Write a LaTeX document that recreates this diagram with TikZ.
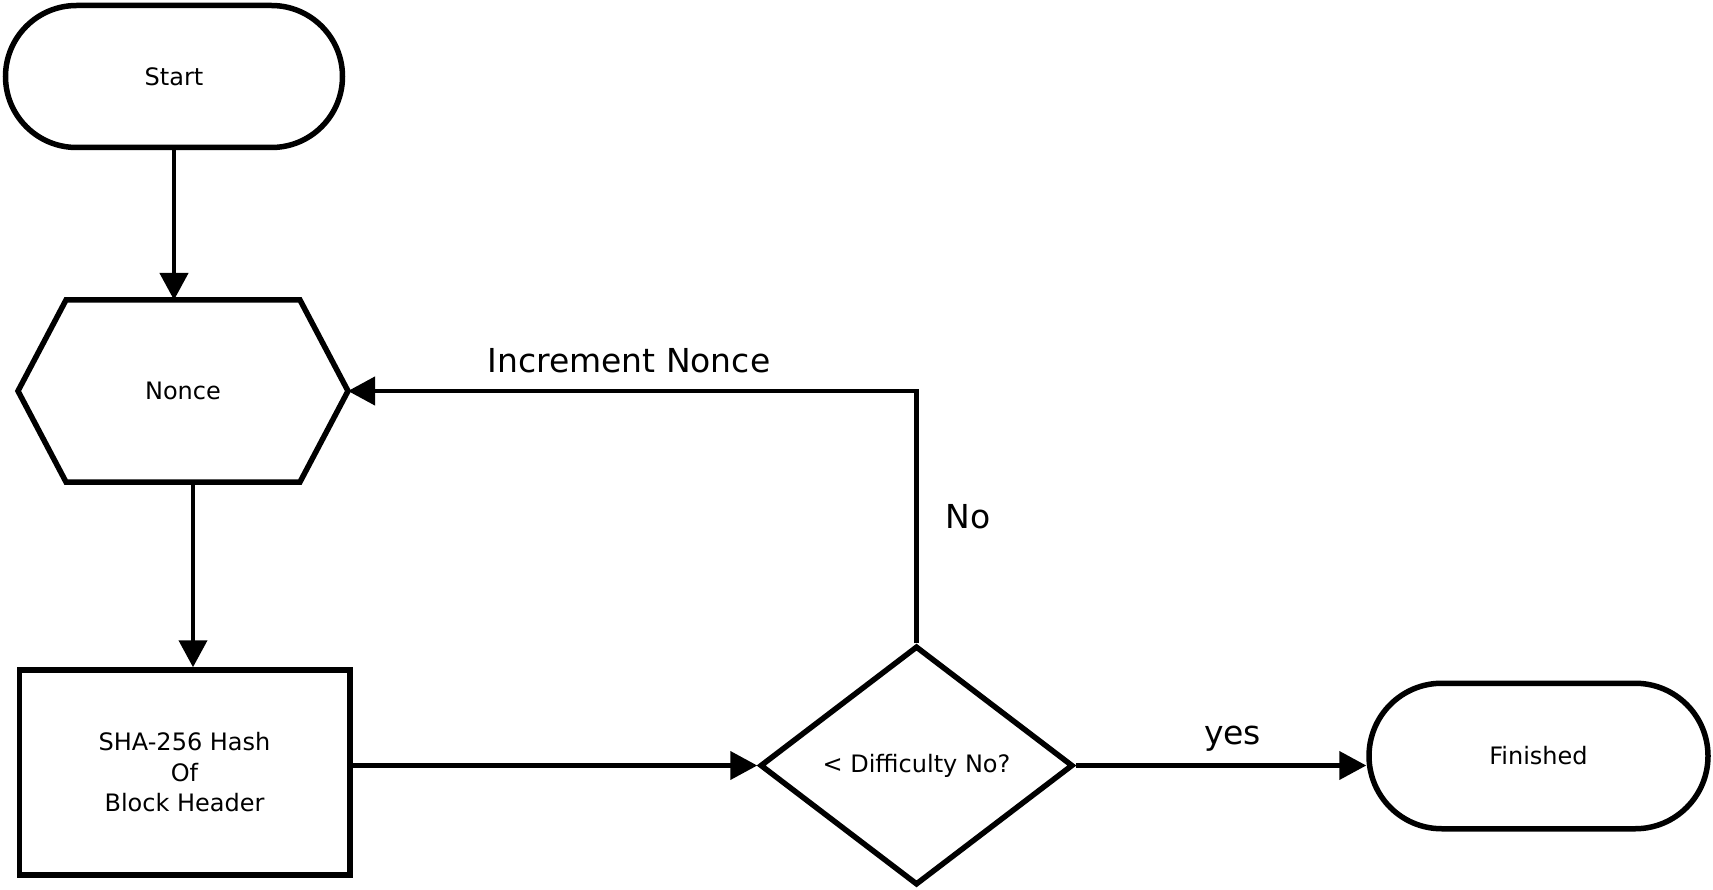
\documentclass[tikz,border=0pt]{standalone}
\usepackage{fontspec}
\setmainfont{DejaVu Sans}
\usetikzlibrary{arrows.meta,shapes.misc,shapes.geometric}

\begin{document}
\begin{tikzpicture}[x=1pt,y=-1pt,
     box/.style={draw,line width=5.5pt,font=\fontsize{24}{30.5}\selectfont,
       align=center,inner sep=0pt},
     term/.style={box,rounded rectangle},
     proc/.style={box,rectangle},
     decide/.style={box,diamond},
     flow/.style={line width=4.2pt,-{Triangle[length=27pt,width=28pt]}},
     lab/.style={font=\fontsize{33}{40}\selectfont,inner sep=4pt}]
    \useasboundingbox (0,0) rectangle (1713,890);
    \node[term,minimum width=337pt,minimum height=142pt] (start) at (174,76.5) {Start};
    \node[box,draw=none,minimum width=330pt,minimum height=182pt,
      outer sep=0pt] (nonce) at (183,391) {Nonce};
    \draw[line width=5.5pt] (nonce.west) -- ([xshift=48pt]nonce.north west)
      -- ([xshift=-48pt]nonce.north east) -- (nonce.east)
      -- ([xshift=-48pt]nonce.south east) -- ([xshift=48pt]nonce.south west)
      -- cycle;
    \node[proc,minimum width=330.5pt,minimum height=205pt] (hash) at (184.5,772.5)
      {SHA-256 Hash\\Of\\Block Header};
    \node[decide,minimum width=313pt,minimum height=239pt,aspect=1.31] (test)
      at (916.5,765.5) {< Difficulty No?};
    \node[term,minimum width=339pt,minimum height=145.5pt] (done) at (1538.5,756) {Finished};
    \draw[flow] (start.south) -- (start.south |- nonce.north);
    \draw[flow] ([xshift=10pt]nonce.south) -- ([xshift=10pt]nonce.south |- hash.north);
    \draw[flow] (hash.east |- test.west) -- (test.west);
    \draw[flow] (test.east) -- (test.east -| done.west)
      node[lab,pos=0.54,above=8pt] {yes};
    \draw[flow] (test.north) |- (nonce.east)
      node[lab,pos=0.25,right=23pt] {No}
      node[lab,pos=0.753,above=12pt] {Increment Nonce};
  \end{tikzpicture}
\end{document}
